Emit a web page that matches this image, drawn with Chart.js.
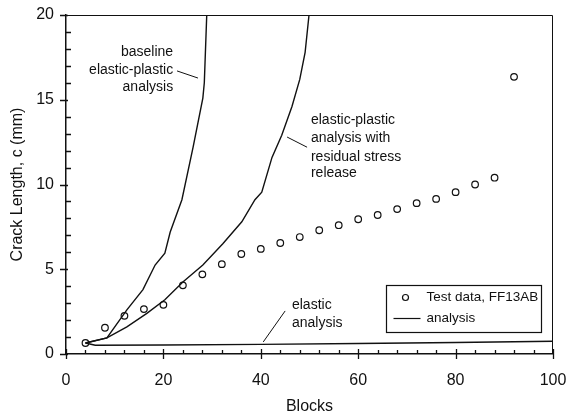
<!DOCTYPE html>
<html>
<head>
<meta charset="utf-8">
<script src="https://cdn.jsdelivr.net/npm/chart.js"></script>
<style>
  html, body { margin: 0; padding: 0; background: #fff; }
  #wrap { width: 568px; height: 419px; }
</style>
</head>
<body>
<div id="wrap"><canvas id="c"></canvas></div>
<script>
// test data, FF13AB
const testBlocks = [4, 8, 12, 16, 20, 24, 28, 32, 36, 40, 44, 48, 52, 56, 60, 64, 68, 72, 76, 80, 84, 88, 92];
const testCrack = [0.65, 1.55, 2.25, 2.65, 2.9, 4.05, 4.7, 5.3, 5.9, 6.2, 6.55, 6.9, 7.3, 7.6, 7.95, 8.2, 8.55, 8.9, 9.15, 9.55, 10.0, 10.4, 16.35];

// baseline elastic-plastic analysis
const baseBlocks = [4, 8.4, 12.5, 15.8, 18.3, 20.3, 21.4, 23.8, 26.1, 28.1, 28.4, 28.9];
const baseCrack = [0.65, 0.95, 2.6, 3.8, 5.25, 5.95, 7.2, 9.1, 12.2, 15.1, 16.0, 20];

// elastic-plastic analysis with residual stress release
const residBlocks = [4, 8.4, 12.5, 16.6, 20.3, 24, 28.1, 32.2, 36.1, 38.8, 40.2, 42.3, 44.3, 46.4, 48, 49.1, 49.9];
const residCrack = [0.65, 0.95, 1.6, 2.4, 3.2, 4.25, 5.25, 6.5, 7.8, 9.1, 9.55, 11.6, 12.9, 14.6, 16.2, 17.8, 20];

// elastic analysis
const elasBlocks = [4, 6, 20, 40, 60, 80, 100];
const elasCrack = [0.65, 0.52, 0.53, 0.57, 0.62, 0.68, 0.75];

const xTicks = [0, 20, 40, 60, 80, 100];
const yTicks = [0, 5, 10, 15, 20];

const FONT = 'Arial, "Liberation Sans", Helvetica, sans-serif';

function pts(xs, ys) { return xs.map((v, i) => ({ x: v, y: ys[i] })); }

function noPad(s) {
  s.paddingLeft = 0; s.paddingRight = 0; s.paddingTop = 0; s.paddingBottom = 0;
}

const decor = {
  id: 'decor',
  afterDraw(chart) {
    const { ctx, chartArea: a, scales: { x, y } } = chart;
    const X = v => x.getPixelForValue(v), Y = v => y.getPixelForValue(v);
    ctx.save();
    ctx.strokeStyle = '#111';
    // top and right frame
    ctx.lineWidth = 1;
    ctx.beginPath();
    ctx.moveTo(a.left, a.top + 0.5);
    ctx.lineTo(a.right - 0.5, a.top + 0.5);
    ctx.lineTo(a.right - 0.5, a.bottom);
    ctx.stroke();
    // tick marks
    ctx.lineWidth = 1.3;
    ctx.beginPath();
    for (let v = 0; v <= 100; v += 4) {
      const px = Math.round(X(v)) + 0.5;
      const major = v % 20 === 0;
      ctx.moveTo(px, a.bottom + (major ? 5 : 0));
      ctx.lineTo(px, a.bottom - (major ? 5 : 4));
    }
    for (let v = 0; v <= 20; v += 1) {
      const py = Math.round(Y(v)) + 0.5;
      const major = v % 5 === 0;
      ctx.moveTo(a.left - (major ? 6 : 0), py);
      ctx.lineTo(a.left + (major ? 2 : 5), py);
    }
    ctx.stroke();

    // annotations
    ctx.fillStyle = '#111';
    ctx.font = '14px ' + FONT;
    ctx.textBaseline = 'middle';
    ctx.textAlign = 'right';
    ['baseline', 'elastic-plastic', 'analysis'].forEach((t, i) =>
      ctx.fillText(t, X(22.0), Y([17.82, 16.76, 15.75][i])));
    ctx.textAlign = 'left';
    ['elastic-plastic', 'analysis with', 'residual stress', 'release'].forEach((t, i) =>
      ctx.fillText(t, X(50.3), Y([13.8, 12.74, 11.62, 10.68][i])));
    ['elastic', 'analysis'].forEach((t, i) =>
      ctx.fillText(t, X(46.4), Y([2.89, 1.83][i])));
    ctx.lineWidth = 1;
    ctx.beginPath();
    ctx.moveTo(X(22.8), Y(16.7)); ctx.lineTo(X(27.1), Y(16.28));
    ctx.moveTo(X(45.4), Y(12.8)); ctx.lineTo(X(49.5), Y(12.2));
    ctx.moveTo(X(40.5), Y(0.71)); ctx.lineTo(X(45.0), Y(2.54));
    ctx.stroke();

    // legend box
    const lx0 = Math.round(X(65.7)) + 0.5, lx1 = Math.round(X(97.5)) + 0.5;
    const ly0 = Math.round(Y(4.07)) + 0.5, ly1 = Math.round(Y(1.3)) + 0.5;
    ctx.fillStyle = '#fff';
    ctx.fillRect(lx0, ly0, lx1 - lx0, ly1 - ly0);
    ctx.lineWidth = 1.2;
    ctx.strokeRect(lx0, ly0, lx1 - lx0, ly1 - ly0);
    ctx.beginPath();
    ctx.arc(lx0 + 19, ly0 + 12, 3, 0, Math.PI * 2);
    ctx.stroke();
    ctx.beginPath();
    ctx.moveTo(lx0 + 7, ly0 + 33); ctx.lineTo(lx0 + 34, ly0 + 33);
    ctx.stroke();
    ctx.fillStyle = '#111';
    ctx.font = '13.5px ' + FONT;
    ctx.fillText('Test data, FF13AB', lx0 + 40, ly0 + 12);
    ctx.fillText('analysis', lx0 + 40, ly0 + 33);
    ctx.restore();
  }
};

const lineStyle = { showLine: true, pointRadius: 0, borderColor: '#111', borderWidth: 1.4, tension: 0, fill: false };

new Chart(document.getElementById('c'), {
  type: 'scatter',
  data: {
    datasets: [
      Object.assign({ label: 'baseline elastic-plastic analysis', data: pts(baseBlocks, baseCrack) }, lineStyle),
      Object.assign({ label: 'elastic-plastic analysis with residual stress release', data: pts(residBlocks, residCrack) }, lineStyle),
      Object.assign({ label: 'elastic analysis', data: pts(elasBlocks, elasCrack) }, lineStyle),
      {
        label: 'Test data, FF13AB', data: pts(testBlocks, testCrack),
        pointRadius: 3.3, pointBorderWidth: 1.2, pointBackgroundColor: '#fff', pointBorderColor: '#111'
      }
    ]
  },
  options: {
    responsive: true,
    maintainAspectRatio: false,
    animation: false,
    layout: { padding: { top: 15, right: 15, left: 0, bottom: 0 } },
    plugins: { legend: { display: false }, tooltip: { enabled: false } },
    scales: {
      x: {
        type: 'linear', min: 0, max: 100,
        afterFit: s => { s.height = 65; noPad(s); },
        afterBuildTicks: s => { s.ticks = xTicks.map(v => ({ value: v })); },
        grid: { display: true, drawOnChartArea: false, drawTicks: false },
        border: { display: true, color: '#111', width: 1.5 },
        ticks: { color: '#111', font: { family: FONT, size: 16 }, padding: 17, maxRotation: 0 },
        title: { display: true, text: 'Blocks', color: '#111', font: { family: FONT, size: 16 }, padding: { top: 0, bottom: 2.4 } }
      },
      y: {
        type: 'linear', min: 0, max: 20,
        afterFit: s => { s.width = 66; noPad(s); },
        afterBuildTicks: s => { s.ticks = yTicks.map(v => ({ value: v })); },
        grid: { display: true, drawOnChartArea: false, drawTicks: false },
        border: { display: true, color: '#111', width: 1.5 },
        ticks: { color: '#111', font: { family: FONT, size: 16 }, padding: 12 },
        title: { display: true, text: 'Crack Length, c (mm)', color: '#111', font: { family: FONT, size: 16 }, padding: { top: 8.4, bottom: 0 } }
      }
    }
  },
  plugins: [decor]
});
</script>
</body>
</html>
